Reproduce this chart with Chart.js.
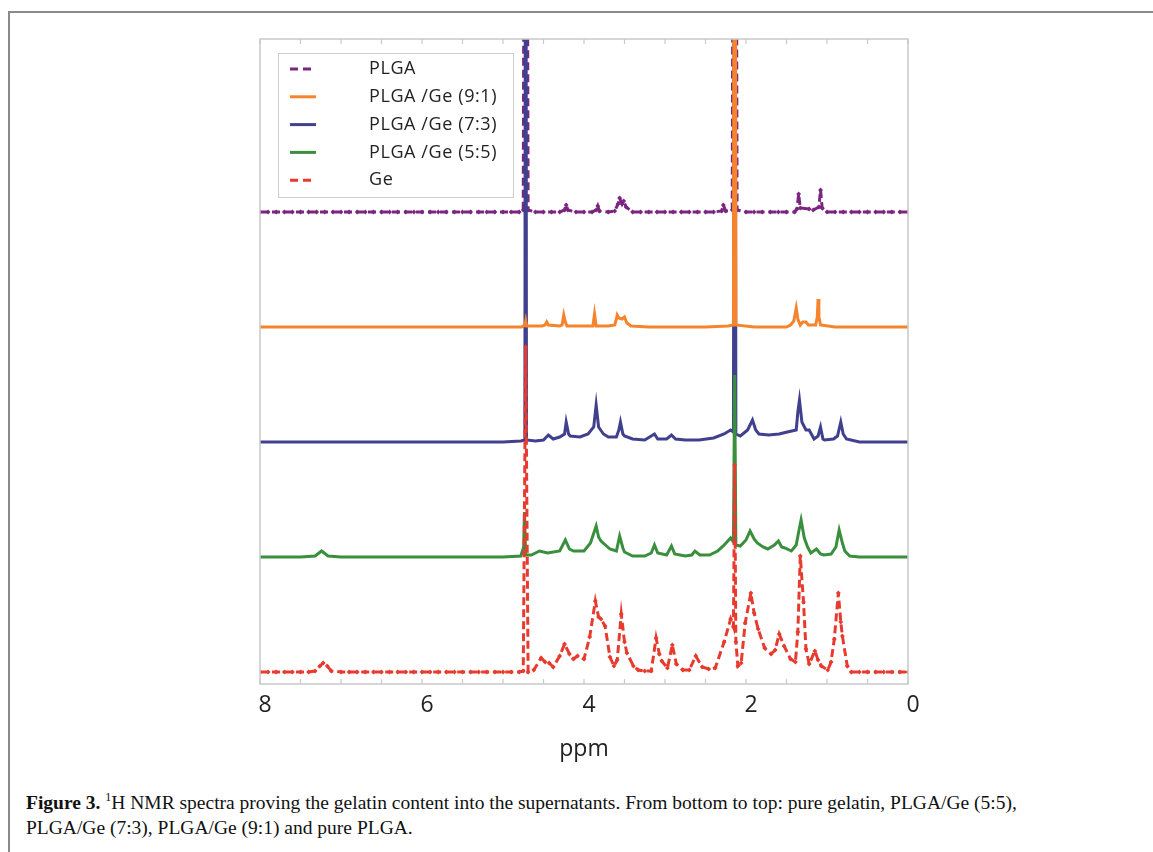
<!DOCTYPE html>
<html lang="en">
<head>
  <meta charset="UTF-8" />
  <title>Figure 3 - 1H NMR spectra</title>
  <style>
    body { margin: 0; background: #fff; width: 1153px; height: 852px; overflow: hidden; position: relative; }
    .frame {
      position: absolute; left: 8px; top: 11px; width: 1200px; height: 900px;
      border-left: 2px solid #8a8a8a; border-top: 2px solid #8a8a8a;
    }
    #chart { position: absolute; left: 0; top: 0; }
    .caption {
      position: absolute; left: 26px; top: 790px; width: 1110px;
      font-family: "Liberation Serif", "DejaVu Serif", serif;
      font-size: 19.5px; line-height: 25px; color: #111;
    }
    .caption sup { font-size: 12px; vertical-align: 8px; line-height: 0; }
  </style>
</head>
<body>
  <div class="frame"></div>
  <canvas id="chart" width="1153" height="780"></canvas>
  <div class="caption">
    <b>Figure 3.</b> <sup>1</sup>H NMR spectra proving the gelatin content into the supernatants. From bottom to top: pure gelatin, PLGA/Ge (5:5),<br>
    PLGA/Ge (7:3), PLGA/Ge (9:1) and pure PLGA.
  </div>

  <script src="https://cdn.jsdelivr.net/npm/chart.js"></script>
  <script>
    // [ppm, intensity] pairs (arbitrary units, ~px above each baseline)
    const ge = [
      [8.0,0],[7.9,0],[7.8,0],[7.7,0],[7.6,0],[7.5,0],[7.4,0],[7.32,1],[7.26,6],[7.22,9],[7.17,6],
      [7.12,1],[7.0,0],[6.9,0],[6.8,0],[6.7,0],[6.6,0],[6.5,0],[6.4,0],[6.3,0],[6.2,0],[6.1,0],
      [6.0,0],[5.9,0],[5.8,0],[5.7,0],[5.6,0],[5.5,0],[5.4,0],[5.3,0],[5.2,0],[5.1,0],[5.0,0],
      [4.9,0],[4.8,0],[4.75,1],[4.72,325],[4.69,0],[4.62,2],[4.53,14],[4.48,10],[4.43,9],[4.38,5],
      [4.3,16],[4.24,28],[4.18,18],[4.13,13],[4.08,16],[4.0,13],[3.93,35],[3.86,71],[3.82,55],
      [3.79,53],[3.74,46],[3.68,15],[3.63,6],[3.59,12],[3.54,58],[3.5,30],[3.47,19],[3.39,6],
      [3.33,2],[3.25,1],[3.17,1],[3.11,34],[3.07,18],[3.04,11],[2.97,4],[2.91,27],[2.86,8],
      [2.78,2],[2.7,2],[2.62,16],[2.54,5],[2.46,3],[2.38,4],[2.27,30],[2.19,53],[2.155,45],
      [2.14,207],[2.125,30],[2.1,6],[2.06,9],[2.01,49],[1.94,79],[1.9,59],[1.85,43],[1.77,24],
      [1.69,18],[1.64,22],[1.59,38],[1.53,26],[1.45,13],[1.39,10],[1.36,40],[1.33,116],[1.29,70],
      [1.26,23],[1.22,8],[1.15,21],[1.11,12],[1.07,6],[0.99,2],[0.95,10],[0.91,33],[0.86,79],
      [0.83,50],[0.81,36],[0.75,6],[0.7,0],[0.6,0],[0.5,0],[0.4,0],[0.3,0],[0.2,0],[0.1,0],[0.0,0]
    ];
    const ge55 = [
      [8.0,0],[7.5,0],[7.32,1],[7.24,6],[7.16,1],[7.0,0],[6.5,0],[6.0,0],[5.5,0],[5.0,0],
      [4.78,1],[4.745,10],[4.735,45],[4.72,2],[4.65,2],[4.55,6],[4.45,4],[4.3,6],[4.23,17],
      [4.18,8],[4.13,6],[4.0,6],[3.92,14],[3.85,31],[3.82,20],[3.79,16],[3.68,8],[3.6,6],
      [3.56,21],[3.52,9],[3.5,5],[3.4,1],[3.25,1],[3.17,4],[3.13,12],[3.09,4],[2.98,2],[2.92,11],
      [2.88,3],[2.75,1],[2.67,2],[2.63,6],[2.57,2],[2.45,2],[2.35,6],[2.28,11],[2.19,19],
      [2.155,15],[2.14,182],[2.125,12],[2.07,11],[2.0,17],[1.95,26],[1.9,18],[1.86,14],[1.79,10],
      [1.73,8],[1.65,12],[1.6,16],[1.56,10],[1.52,9],[1.44,6],[1.38,12],[1.35,25],[1.32,37],
      [1.28,19],[1.24,10],[1.2,4],[1.13,8],[1.08,3],[1.04,2],[0.95,3],[0.89,10],[0.85,27],
      [0.81,14],[0.78,6],[0.72,1],[0.6,0],[0.4,0],[0.2,0],[0.0,0]
    ];
    const ge73 = [
      [8.0,0],[7.0,0],[6.0,0],[5.0,0],[4.78,1],[4.73,2],[4.72,1000],[4.71,2],[4.6,1],[4.5,2],
      [4.44,7],[4.38,3],[4.3,5],[4.24,8],[4.22,20],[4.19,8],[4.17,6],[4.05,5],[3.95,8],[3.88,15],
      [3.85,37],[3.82,15],[3.76,8],[3.7,5],[3.6,5],[3.57,12],[3.55,20],[3.52,8],[3.5,6],[3.4,3],
      [3.25,2],[3.13,8],[3.09,3],[2.98,3],[2.92,7],[2.87,3],[2.75,2],[2.58,2],[2.4,4],[2.27,8],
      [2.19,12],[2.155,10],[2.14,1000],[2.125,8],[2.07,6],[1.98,12],[1.92,22],[1.88,12],[1.84,8],
      [1.72,7],[1.59,8],[1.49,10],[1.38,12],[1.36,30],[1.34,42],[1.31,20],[1.26,12],[1.22,12],
      [1.16,3],[1.11,6],[1.08,15],[1.05,3],[1.03,2],[0.92,3],[0.87,6],[0.83,20],[0.8,8],[0.76,3],
      [0.6,0],[0.4,0],[0.2,0],[0.0,0]
    ];
    const ge91 = [
      [8.0,0],[7.0,0],[6.0,0],[5.0,0],[4.77,0],[4.73,2],[4.72,6],[4.71,1],[4.52,1],[4.48,2],
      [4.46,5],[4.44,2],[4.3,1],[4.27,2],[4.25,12],[4.23,5],[4.21,1],[4.0,1],[3.89,1],[3.87,13],
      [3.85,1],[3.7,1],[3.62,2],[3.6,8],[3.59,12],[3.57,9],[3.53,8],[3.5,10],[3.47,4],[3.42,1],
      [3.2,0],[2.9,0],[2.5,0],[2.22,1],[2.155,2],[2.14,1000],[2.125,2],[1.9,0],[1.5,0],[1.45,2],
      [1.41,6],[1.38,19],[1.36,8],[1.33,2],[1.3,5],[1.26,5],[1.23,2],[1.14,2],[1.12,10],[1.11,28],
      [1.1,10],[1.08,2],[0.9,0],[0.5,0],[0.0,0]
    ];
    const plga = [
      [8.0,0],[7.9,0],[7.8,0],[7.7,0],[7.6,0],[7.5,0],[7.4,0],[7.3,0],[7.2,0],[7.1,0],[7.0,0],
      [6.9,0],[6.8,0],[6.7,0],[6.6,0],[6.5,0],[6.4,0],[6.3,0],[6.2,0],[6.1,0],[6.0,0],[5.9,0],
      [5.8,0],[5.7,0],[5.6,0],[5.5,0],[5.4,0],[5.3,0],[5.2,0],[5.1,0],[5.0,0],[4.9,0],[4.8,0],
      [4.75,2],[4.72,1000],[4.69,2],[4.6,0],[4.5,0],[4.4,0],[4.3,0],[4.24,2],[4.22,7],[4.2,2],
      [4.1,0],[4.0,0],[3.9,0],[3.85,2],[3.83,6],[3.81,1],[3.7,0],[3.62,1],[3.58,8],[3.56,14],
      [3.53,8],[3.51,11],[3.48,5],[3.4,0],[3.3,0],[3.2,0],[3.1,0],[3.0,0],[2.9,0],[2.8,0],[2.7,0],
      [2.6,0],[2.5,0],[2.4,0],[2.3,1],[2.28,7],[2.25,1],[2.17,2],[2.14,1000],[2.11,2],[2.0,0],
      [1.9,0],[1.8,0],[1.7,0],[1.6,0],[1.5,0],[1.4,0],[1.37,3],[1.35,18],[1.33,4],[1.22,3],
      [1.17,2],[1.1,5],[1.08,22],[1.06,4],[1.0,0],[0.9,0],[0.8,0],[0.7,0],[0.6,0],[0.5,0],
      [0.4,0],[0.3,0],[0.2,0],[0.1,0],[0.0,0]
    ];

    const seriesNames = ['Ge', 'PLGA /Ge (5:5)', 'PLGA /Ge (7:3)', 'PLGA /Ge (9:1)', 'PLGA'];
    const seriesData = [ge, ge55, ge73, ge91, plga];
    const seriesColors = ['#e63b2e', '#3a8f3d', '#40408f', '#f5842c', '#7a2680'];
    const seriesDashed = [true, false, false, false, true];
    // which spectrum sits on top of the others where they cross (0 = topmost)
    const drawOrder = [0, 1, 3, 2, 4];
    const legendOrder = [4, 3, 2, 1, 0];
    const xTickLabels = ['0', '2', '4', '6', '8'];
    const traceGap = 115;

    const datasets = seriesData.map((pts, i) => ({
      label: seriesNames[i],
      data: pts.map(p => ({ x: p[0], y: p[1] + i * traceGap })),
      borderColor: seriesColors[i],
      backgroundColor: seriesColors[i],
      borderWidth: 3,
      borderDash: seriesDashed[i] ? [8, 4] : [],
      pointRadius: seriesDashed[i] ? 2.4 : 0,
      pointStyle: 'rectRot',
      pointBorderWidth: 0,
      tension: 0,
      order: drawOrder[i]
    }));

    const boxAndTicks = {
      id: 'boxAndTicks',
      afterDraw(chart) {
        const { ctx, chartArea: a } = chart;
        const xs = chart.scales.x;
        ctx.save();
        ctx.strokeStyle = '#c9c9c9';
        ctx.lineWidth = 1.5;
        ctx.strokeRect(a.left, a.top, a.right - a.left, a.bottom - a.top);
        ctx.lineWidth = 1.2;
        xs.ticks.forEach(t => {
          const px = xs.getPixelForValue(t.value);
          ctx.beginPath();
          ctx.moveTo(px, a.top); ctx.lineTo(px, a.top + 5);
          ctx.moveTo(px, a.bottom); ctx.lineTo(px, a.bottom - 5);
          ctx.stroke();
        });
        ctx.restore();
      }
    };

    const boxLegend = {
      id: 'boxLegend',
      afterDraw(chart) {
        const { ctx } = chart;
        const x0 = 278, y0 = 53, w = 235, h = 144, row = 27.8;
        ctx.save();
        ctx.fillStyle = '#fff';
        ctx.fillRect(x0, y0, w, h);
        ctx.strokeStyle = '#cfcfcf';
        ctx.lineWidth = 1;
        ctx.strokeRect(x0 + 0.5, y0 + 0.5, w, h);
        ctx.font = '18px "Open Sans", sans-serif';
        ctx.letterSpacing = '0.6px';
        ctx.textBaseline = 'middle';
        legendOrder.forEach((si, k) => {
          const y = y0 + 16 + k * row;
          ctx.strokeStyle = seriesColors[si];
          ctx.lineWidth = 3;
          ctx.setLineDash(seriesDashed[si] ? [8, 5] : []);
          ctx.beginPath();
          ctx.moveTo(290, y); ctx.lineTo(316, y);
          ctx.stroke();
          ctx.setLineDash([]);
          ctx.fillStyle = '#222';
          ctx.fillText(seriesNames[si], 369, y);
        });
        ctx.restore();
      }
    };

    new Chart(document.getElementById('chart'), {
      type: 'line',
      data: { datasets },
      options: {
        responsive: false,
        devicePixelRatio: 1,
        animation: false,
        layout: { padding: { left: 260, right: 245, top: 39, bottom: 16 } },
        plugins: { legend: { display: false }, tooltip: { enabled: false } },
        scales: {
          x: {
            type: 'linear',
            min: 0, max: 8,
            reverse: true,
            grid: { display: false, drawTicks: false },
            border: { display: false },
            afterFit(scale) { scale.height = 80; },
            ticks: {
              stepSize: 0.5,
              autoSkip: false,
              maxRotation: 0,
              padding: 8,
              labelOffset: 5,
              color: '#222',
              font: { family: '"Open Sans", sans-serif', size: 23 },
              callback: v => (Number.isInteger(v) && v % 2 === 0) ? xTickLabels[v / 2] : ''
            },
            title: {
              display: true,
              text: 'ppm',
              color: '#222',
              padding: { top: 0, bottom: 1 },
              font: { family: '"Open Sans", sans-serif', size: 23 }
            }
          },
          y: { display: false, min: -12, max: 633 }
        }
      },
      plugins: [boxAndTicks, boxLegend]
    });
  </script>
</body>
</html>
